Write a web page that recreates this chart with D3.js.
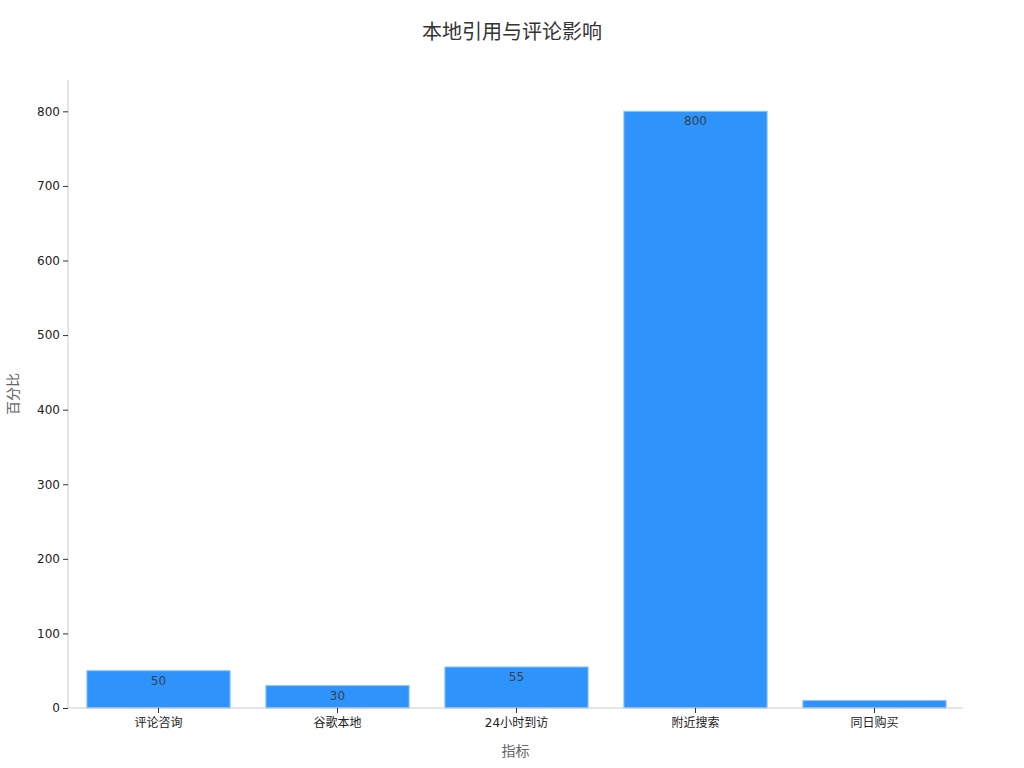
<!DOCTYPE html>
<html>
<head>
<meta charset="utf-8">
<script src="https://cdn.jsdelivr.net/npm/d3@7"></script>
<style>
  body { margin: 0; background: #fff; }
  text { font-family: "DejaVu Sans", "Noto Sans CJK SC", sans-serif; }
</style>
</head>
<body>
<div id="chart"></div>
<script>
var categories = ["评论咨询", "谷歌本地", "24小时到访", "附近搜索", "同日购买"];
var values = [50, 30, 55, 800, 10];
var yTicks = [0, 100, 200, 300, 400, 500, 600, 700, 800];

var margin = { top: 80, right: 61, bottom: 60, left: 68 };
var width = 1024 - margin.left - margin.right,
    height = 768 - margin.top - margin.bottom;

var svg = d3.select("#chart")
    .append("svg")
    .attr("width", 1024)
    .attr("height", 768);

var g = svg.append("g")
    .attr("transform", "translate(" + margin.left + "," + margin.top + ")");

var x = d3.scaleBand()
    .domain(categories)
    .range([1, width + 1])
    .paddingInner(0.2)
    .paddingOuter(0.1);

var y = d3.scaleLinear()
    .domain([0, 842])
    .range([height, 0]);

// bars
var data = categories.map(function (c, i) { return { name: c, value: values[i] }; });

g.selectAll(".bar")
    .data(data)
    .enter()
    .append("rect")
    .attr("class", "bar")
    .attr("x", function (d) { return x(d.name); })
    .attr("y", function (d) { return y(d.value); })
    .attr("width", x.bandwidth())
    .attr("height", function (d) { return height - y(d.value); })
    .attr("fill", "#2e93fa")
    .attr("stroke", "#8cc4fb")
    .attr("stroke-width", 1);

g.selectAll(".bar-label")
    .data(data.filter(function (d) { return height - y(d.value) > 15; }))
    .enter()
    .append("text")
    .attr("class", "bar-label")
    .attr("x", function (d) { return x(d.name) + x.bandwidth() / 2; })
    .attr("y", function (d) { return y(d.value) + 14; })
    .attr("text-anchor", "middle")
    .style("font-size", "12px")
    .style("fill", "#333")
    .style("opacity", 0.85)
    .text(function (d) { return d.value; });

// y axis
var yAxis = g.append("g")
    .call(d3.axisLeft(y).tickValues(yTicks).tickSize(5).tickPadding(3));
yAxis.select(".domain").attr("stroke", "#ccc").attr("d", "M0," + height + "V0");
yAxis.selectAll(".tick line").attr("stroke", "#333");
yAxis.selectAll(".tick text").style("font-size", "12px").style("fill", "#222");

// x axis
var xAxis = g.append("g")
    .attr("transform", "translate(0," + height + ")")
    .call(d3.axisBottom(x).tickSize(5).tickPadding(5));
xAxis.select(".domain").attr("stroke", "#ccc").attr("d", "M0,0H" + width);
xAxis.selectAll(".tick line").attr("stroke", "#333");
xAxis.selectAll(".tick text").style("font-size", "12px").style("fill", "#222");

// titles
svg.append("text")
    .attr("x", 512)
    .attr("y", 39)
    .attr("text-anchor", "middle")
    .style("font-size", "20px")
    .style("fill", "#333")
    .text("本地引用与评论影响");

svg.append("text")
    .attr("x", margin.left + width / 2)
    .attr("y", 756)
    .attr("text-anchor", "middle")
    .style("font-size", "14px")
    .style("fill", "#666")
    .text("指标");

svg.append("text")
    .attr("transform", "translate(18," + (margin.top + height / 2) + ") rotate(-90)")
    .attr("text-anchor", "middle")
    .style("font-size", "14px")
    .style("fill", "#666")
    .text("百分比");
</script>
</body>
</html>
